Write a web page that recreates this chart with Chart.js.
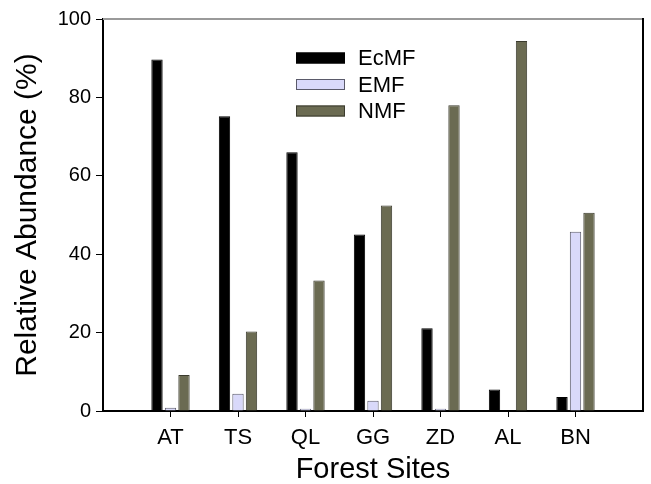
<!DOCTYPE html>
<html>
<head>
<meta charset="utf-8">
<script src="https://cdn.jsdelivr.net/npm/chart.js@4/dist/chart.umd.min.js"></script>
<style>
  html, body { margin: 0; padding: 0; background: #fff; }
  #wrap { width: 651px; height: 484px; position: relative; }
</style>
</head>
<body>
<div id="wrap"><canvas id="abundanceChart"></canvas></div>
<script>
// values
const sites = ['AT', 'TS', 'QL', 'GG', 'ZD', 'AL', 'BN'];
const ecmf = [89.7, 75.2, 66.0, 45.0, 21.1, 5.5, 3.6];
const emf = [0.8, 4.4, 0.6, 2.6, 0.6, 0, 45.7];
const nmf = [9.2, 20.3, 33.3, 52.4, 78.0, 94.4, 50.6];
const yTicks = [0, 20, 40, 60, 80, 100];

const FONT = "'Liberation Sans', Arial, sans-serif";

// pad one empty slot either side so the sites sit at 1..7 of an 8-wide axis
const labels = ['', ...sites, ''];
const pad = arr => [null, ...arr, null];

// legend drawn inside the plot, plus the gray top edge and right edge
const framePlugin = {
  id: 'frame',
  afterDraw(chart) {
    const { ctx, chartArea: a } = chart;
    ctx.save();
    ctx.lineWidth = 2;
    ctx.strokeStyle = '#9a9a9a';
    ctx.beginPath();
    ctx.moveTo(a.left, a.top);
    ctx.lineTo(a.right, a.top);
    ctx.stroke();
    ctx.strokeStyle = '#000';
    ctx.beginPath();
    ctx.moveTo(a.right, a.top - 1);
    ctx.lineTo(a.right, a.bottom);
    ctx.stroke();

    // legend
    ctx.font = '22px ' + FONT;
    ctx.textBaseline = 'middle';
    ctx.textAlign = 'left';
    chart.data.datasets.forEach((ds, i) => {
      const y = 58 + i * 26.5;
      ctx.fillStyle = ds.backgroundColor;
      ctx.fillRect(296, y - 5.5, 49, 11);
      ctx.lineWidth = 1;
      ctx.strokeStyle = ds.borderColor;
      ctx.strokeRect(296.5, y - 5, 48, 10);
      ctx.fillStyle = '#000';
      ctx.fillText(ds.label, 358, y + 1);
    });
    ctx.restore();
  }
};

new Chart(document.getElementById('abundanceChart'), {
  type: 'bar',
  data: {
    labels,
    datasets: [
      { label: 'EcMF', data: pad(ecmf), backgroundColor: '#000000', borderColor: '#000000' },
      { label: 'EMF', data: pad(emf), backgroundColor: '#d9d9fa', borderColor: '#5a5a6a' },
      { label: 'NMF', data: pad(nmf), backgroundColor: '#6b6b52', borderColor: '#3b3b2e' }
    ]
  },
  options: {
    responsive: true,
    maintainAspectRatio: false,
    animation: false,
    layout: { padding: { top: 19, right: 4, left: 0, bottom: 0 } },
    datasets: { bar: { borderWidth: 1, categoryPercentage: 0.6, barPercentage: 0.84 } },
    plugins: { legend: { display: false }, tooltip: { enabled: false } },
    scales: {
      x: {
        offset: false,
        afterFit: s => { s.height = 73; },
        grid: {
          offset: false,
          drawOnChartArea: false,
          drawTicks: true,
          tickLength: 6,
          tickColor: c => (c.tick && c.tick.label) ? '#000' : 'rgba(0,0,0,0)'
        },
        border: { color: '#000', width: 2 },
        ticks: { color: '#000', font: { family: FONT, size: 22 }, padding: 8, autoSkip: false, maxRotation: 0 },
        title: {
          display: true, text: 'Forest Sites', color: '#000',
          font: { family: FONT, size: 29, lineHeight: 1 }, padding: { top: 0, bottom: 0 }
        }
      },
      y: {
        min: 0, max: 100,
        afterFit: s => { s.width = 103; },
        afterBuildTicks: s => { s.ticks = yTicks.map(v => ({ value: v })); },
        grid: { drawOnChartArea: false, drawTicks: true, tickLength: 7, tickColor: '#000' },
        border: { color: '#000', width: 2 },
        ticks: { color: '#000', font: { family: FONT, size: 20 }, padding: 5 },
        title: {
          display: true, text: 'Relative Abundance (%)', color: '#000',
          font: { family: FONT, size: 30, lineHeight: 1 }, padding: { top: 13, bottom: 0 }
        }
      }
    }
  },
  plugins: [framePlugin]
});
</script>
</body>
</html>
